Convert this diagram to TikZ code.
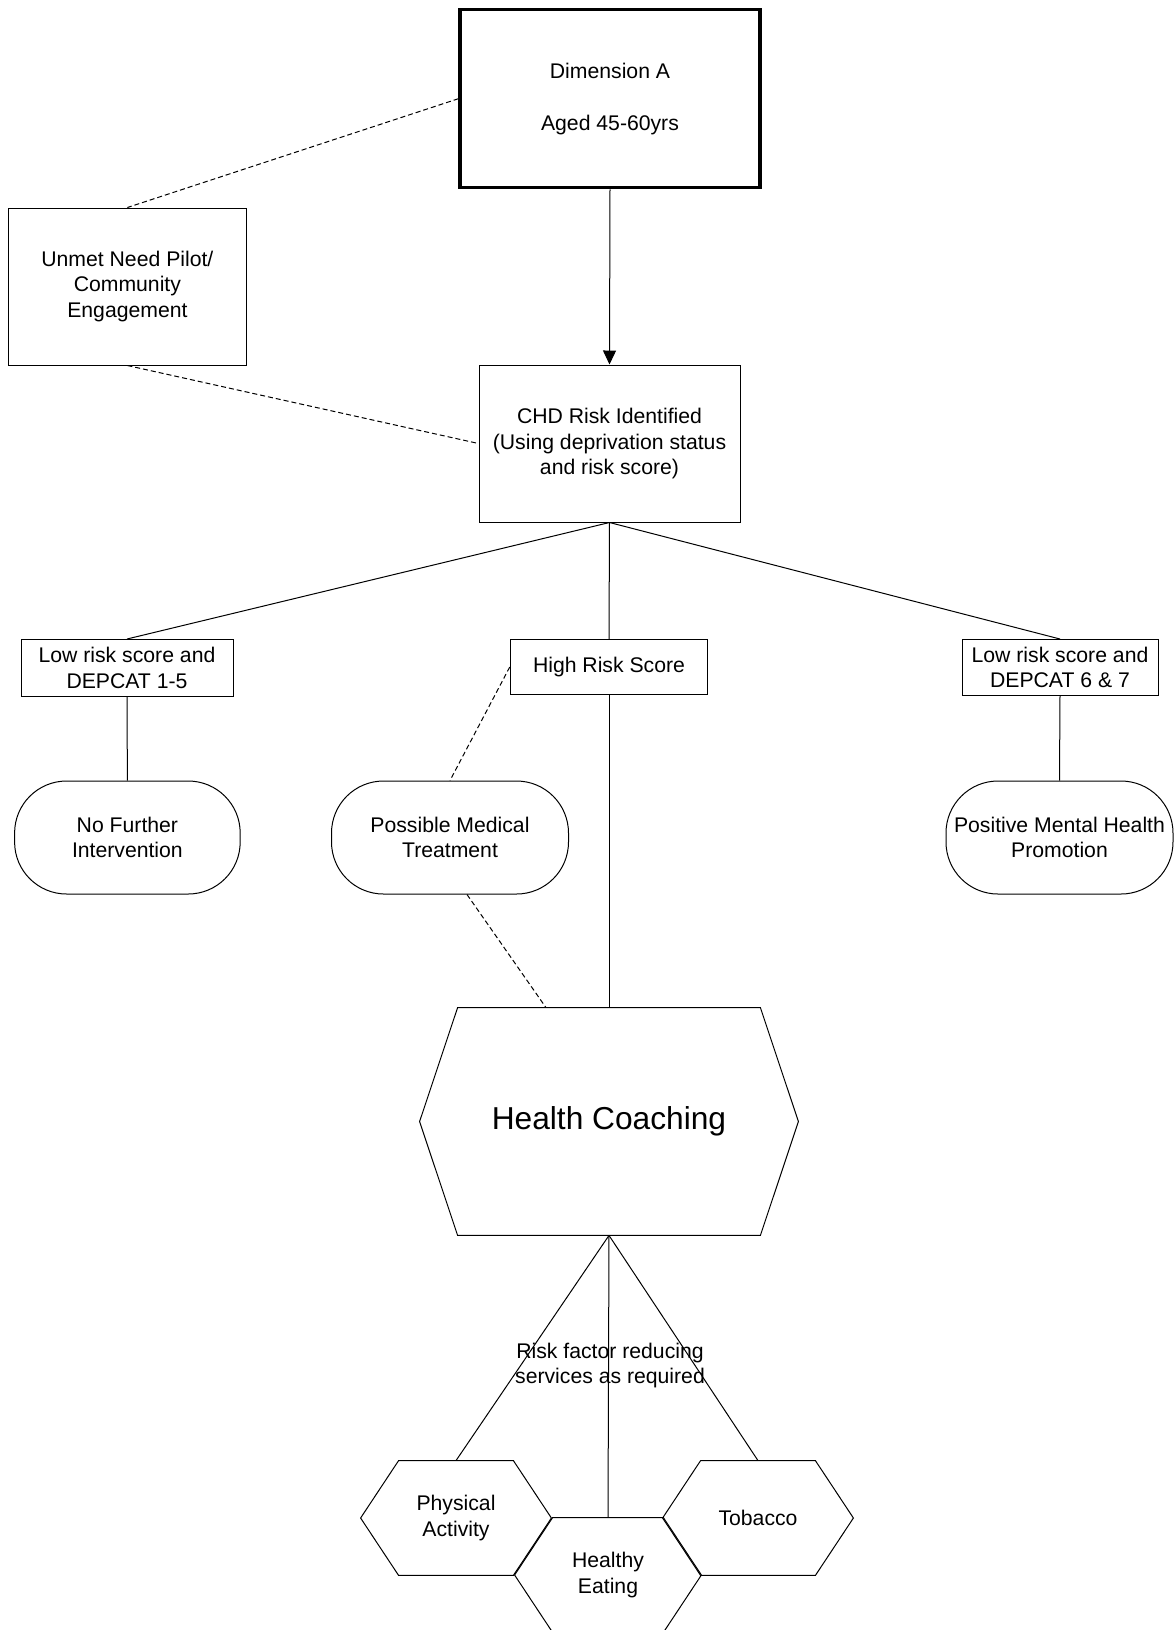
\documentclass[tikz,border=0pt]{standalone}
\usepackage{fontspec}
\setmainfont{Liberation Sans}
\usetikzlibrary{arrows.meta,calc}
\begin{document}
\begin{tikzpicture}[x=0.5pt,y=-0.5pt,
  every node/.style={font=\fontsize{10.6pt}{12.75pt}\selectfont, align=center, inner sep=0pt},
  box/.style={draw, line width=0.5pt, rectangle},
  oval/.style={draw, line width=0.5pt, rounded corners=26pt},
  link/.style={line width=0.5pt},
  dlink/.style={line width=0.5pt, dash pattern=on 2.5pt off 1.5pt},
]
\useasboundingbox (0,0) rectangle (1175,1630);
\clip (0,0) rectangle (1175,1630);

% top of the tree
\node[box, line width=1.6pt, minimum width=150pt, minimum height=89pt] (dimA) at (610,98.7)
  {Dimension A\\[13.25pt]Aged 45-60yrs};
\node[box, minimum width=119pt, minimum height=78.5pt] (unmet) at (127.4,286.5)
  {Unmet Need Pilot/\\Community\\Engagement};
\node[box, minimum width=130.5pt, minimum height=78.5pt] (chd) at (609.5,443.5)
  {CHD Risk Identified\\(Using deprivation status\\and risk score)};

% risk categories
\node[box, minimum width=106pt, minimum height=28.5pt] (lowA) at (127,668)
  {Low risk score and\\DEPCAT 1-5};
\node[box, minimum width=98.75pt, minimum height=27.5pt] (high) at (609,667)
  {High Risk Score};
\node[box, minimum width=98pt, minimum height=28pt] (lowB) at (1060,667.5)
  {Low risk score and\\DEPCAT 6 \& 7};

% outcomes
\node[oval, minimum width=112.8pt, minimum height=56.5pt] (nofurther) at (127.4,837.5)
  {No Further\\Intervention};
\node[oval, minimum width=118.5pt, minimum height=56.5pt] (medical) at (450,837.5)
  {Possible Medical\\Treatment};
\node[oval, minimum width=113.5pt, minimum height=56.5pt] (mental) at (1059.5,837.5)
  {Positive Mental Health\\Promotion};

% hexagonal services
\node[minimum width=189pt, minimum height=113.5pt, font=\fontsize{15.85pt}{19pt}\selectfont] (coach) at (609,1121.5)
  {Health Coaching};
\node[minimum width=95pt, minimum height=57pt] (physical) at (456,1518) {Physical\\Activity};
\node[minimum width=93pt, minimum height=57pt] (eating) at (608,1575) {Healthy\\Eating};
\node[minimum width=95pt, minimum height=57pt] (tobacco) at (758,1518) {Tobacco};

\foreach \n/\d in {coach/38,physical/38,eating/38,tobacco/38}
  \draw[link] (\n.west) -- ($(\n.north west)+(\d,0)$) -- ($(\n.north east)+(-\d,0)$)
    -- (\n.east) -- ($(\n.south east)+(-\d,0)$) -- ($(\n.south west)+(\d,0)$) -- cycle;

\node (services) at (610,1365.5) {Risk factor reducing\\services as required};

% connectors
\draw[dlink] (dimA.west) -- (unmet.north);
\draw[dlink] (unmet.south) -- (chd.west);
\draw[link,-{Triangle[length=7pt,width=6.5pt]}] (dimA.south) -- (chd.north);
\draw[link] (chd.south) -- (lowA.north);
\draw[link] (chd.south) -- (high.north);
\draw[link] (chd.south) -- (lowB.north);
\draw[link] (lowA.south) -- (nofurther.north);
\draw[link] (lowB.south) -- (mental.north);
\draw[link] (high.south) -- (coach.north);
\draw[dlink] (high.west) -- (medical.north);
\draw[dlink] ($(medical.south)+(17,0)$) -- ($(coach.north)+(-63,0)$);
\draw[link] (coach.south) -- (physical.north);
\draw[link] (coach.south) -- (eating.north);
\draw[link] (coach.south) -- (tobacco.north);
\end{tikzpicture}
\end{document}
